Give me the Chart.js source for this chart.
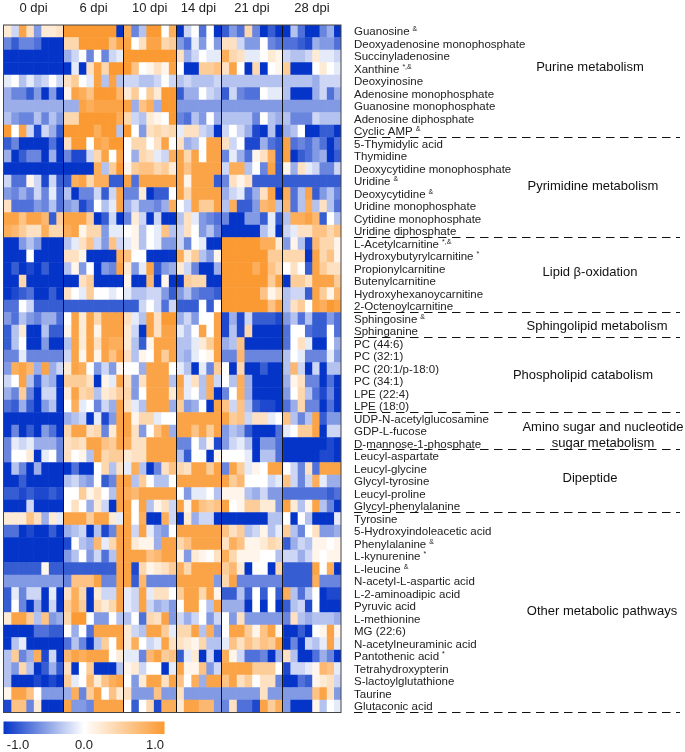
<!DOCTYPE html>
<html>
<head>
<meta charset="utf-8">
<title>Metabolite heatmap</title>
<script src="https://cdn.jsdelivr.net/npm/chart.js@4"></script>
<style>
  html, body { margin: 0; padding: 0; background: #fff; }
  #wrap { position: relative; width: 685px; height: 752px; }
  #wrap canvas { display: block; }
</style>
</head>
<body>
<div id="wrap"><canvas id="heat"></canvas></div>
<script>
const metabolites = [
  'Guanosine', 'Deoxyadenosine monophosphate', 'Succinyladenosine', 'Xanthine', 'Deoxyinosine',
  'Adenosine monophosphate', 'Guanosine monophosphate', 'Adenosine diphosphate', 'Cyclic AMP',
  '5-Thymidylic acid', 'Thymidine', 'Deoxycytidine monophosphate', 'Uridine', 'Deoxycytidine',
  'Uridine monophosphate', 'Cytidine monophosphate', 'Uridine diphosphate',
  'L-Acetylcarnitine', 'Hydroxybutyrylcarnitine', 'Propionylcarnitine', 'Butenylcarnitine',
  'Hydroxyhexanoycarnitine', '2-Octenoylcarnitine',
  'Sphingosine', 'Sphinganine',
  'PC (44:6)', 'PC (32:1)', 'PC (20:1/p-18:0)', 'PC (34:1)', 'LPE (22:4)', 'LPE (18:0)',
  'UDP-N-acetylglucosamine', 'GDP-L-fucose', 'D-mannose-1-phosphate',
  'Leucyl-aspartate', 'Leucyl-glycine', 'Glycyl-tyrosine', 'Leucyl-proline', 'Glycyl-phenylalanine',
  'Tyrosine', '5-Hydroxyindoleacetic acid', 'Phenylalanine', 'L-kynurenine', 'L-leucine',
  'N-acetyl-L-aspartic acid', 'L-2-aminoadipic acid', 'Pyruvic acid', 'L-methionine', 'MG (22:6)',
  'N-acetylneuraminic acid', 'Pantothenic acid', 'Tetrahydroxypterin', 'S-lactoylglutathione',
  'Taurine', 'Glutaconic acid'
];

// small superscript marks next to some names, by row
const markRows = [0, 3, 8, 12, 13, 17, 18, 23, 41, 42, 43, 50];
const markTexts = ['&', '*,&', '&', '&', '&', '*,&', '*', '&', '&', '*', '&', '*'];

const pathways = [
  ['Purine metabolism'], ['Pyrimidine metabolism'], ['Lipid β-oxidation'], ['Sphingolipid metabolism'],
  ['Phospholipid catabolism'], ['Amino sugar and nucleotide', 'sugar metabolism'], ['Dipeptide'],
  ['Other metabolic pathways']
];
// row count of each pathway block
const pathwaySizes = [9, 8, 6, 2, 6, 3, 5, 16];
// row the pathway name sits on
const pathwayRows = [2.9, 12.4, 19.3, 23.6, 27.5, 32.3, 35.8, 46.4];

const groupNames = ['0 dpi', '6 dpi', '10 dpi', '14 dpi', '21 dpi', '28 dpi'];
// width of each group in column units (21 dpi runs a little wider in the figure)
const groupUnits = [8, 8, 7, 6, 8.24, 7.76];

// z-scores in tenths (-10 = -1.0, 10 = 1.0), one row per metabolite
const dpi0 = [
  [2,-2,9,3,-5,2,2,3],[-6,-8,-6,-6,-7,-10,-10,-10],[-10,-10,-10,-10,-10,-10,-10,-10],[-10,-10,-10,-10,-10,-10,-10,-10],
  [-1,0,-3,-1,-3,-2,0,-2],[-4,-6,-6,-8,-5,-10,-5,-10],[-4,-4,-4,-4,-4,-4,-4,-4],[-3,-5,-6,-6,-3,-6,-3,-5],
  [10,0,9,-2,-9,-2,-4,-8],[-8,-6,-10,-10,-10,-10,-7,-10],[-4,-10,-8,-6,-6,-10,-4,-10],[-10,-10,-10,-10,-10,-10,-10,-10],
  [-2,-7,-7,1,-2,-9,-2,-8],[-5,-6,-4,-6,-2,-6,-1,-7],[3,-7,-7,-7,-5,-6,-3,-7],[9,9,6,9,9,7,-8,5],
  [8,7,5,3,3,8,4,4],[-10,-10,-5,-3,-5,-10,-10,-10],[-10,-10,-10,0,-10,-10,-10,-10],[-10,-8,-10,-9,-10,-8,-10,-10],
  [-10,-10,4,-10,-10,-10,-10,-10],[-10,-9,-8,-7,-10,-10,-8,-10],[-7,-7,0,-2,-8,-8,-8,-8],[-5,-7,-3,-5,-6,-4,-4,-7],
  [-8,-3,2,-10,-10,-3,-8,-8],[-8,-3,0,-10,-10,-5,-10,-10],[-6,-6,-1,-6,-6,-6,-6,-6],[-5,8,9,7,-4,9,-4,-2],
  [-2,0,9,-3,-8,-3,-4,-10],[-4,-6,5,-6,-10,-2,-2,-10],[-7,-8,-4,-8,-10,-5,-3,-10],[-10,-10,-10,-10,-10,-10,-10,-10],
  [-10,-6,-10,-8,-10,-5,-7,-10],[-6,-1,-2,-1,-4,-4,-4,-6],[-6,0,0,2,-10,-1,0,-6],[-10,-3,-6,-10,-4,-10,-10,-10],
  [-10,-10,-8,-10,-10,-10,-10,-10],[-8,-8,-9,-8,-9,-9,-8,-9],[-10,-10,-10,-2,-10,-10,-10,-10],[2,2,2,6,3,-4,2,-1],
  [-7,-7,-10,-9,-10,-10,-8,-10],[-10,-10,-10,-10,-10,-10,-10,-10],[-10,-10,-10,-10,-10,-10,-10,-10],[-8,-8,-8,-8,-8,1,-8,-8],
  [-5,-5,-5,-5,-5,-5,-5,-5],[-8,-1,-6,-2,-2,-10,-1,-10],[-8,0,-6,-10,-4,-10,-2,-10],[2,9,9,5,-3,6,-5,-4],
  [-10,-10,-10,-10,-7,-7,-8,-8],[-10,-3,-1,-10,-10,-10,-10,-10],[-3,5,-6,-4,8,-9,-2,-10],[-3,-5,4,-3,-10,-8,-4,-8],
  [-3,-10,-10,-10,-9,-10,-9,-10],[1,9,9,6,0,-5,-5,-5],[-9,6,6,-6,2,-10,-10,-10]
];
const dpi6 = [
  [10,10,10,10,10,10,10,-10],[4,4,10,10,10,10,6,9],[-4,-2,0,-6,0,-6,-2,-1],[-10,-1,-10,3,9,4,10,10],
  [3,5,0,-1,9,-3,9,-3],[1,9,8,6,10,10,10,7],[-4,-4,9,8,9,9,9,9],[4,4,10,10,10,10,10,8],
  [10,10,10,10,8,10,10,-3],[3,10,10,0,9,8,10,10],[-6,-9,-9,-2,4,9,0,9],[-10,-10,-10,-10,8,-3,5,10],
  [-8,8,9,4,8,8,-8,-8],[-3,-10,-6,-6,-2,-8,-2,9],[-5,-4,-9,-7,0,-3,-1,9],[9,9,9,5,-10,-8,-2,-10],
  [8,9,1,4,4,-5,-1,-1],[-3,-1,3,6,-2,-5,6,-2],[3,3,1,-10,-10,-10,-10,8],[-3,1,-5,0,-10,-5,-6,9],
  [-10,-10,3,5,-10,-10,-10,-10],[3,0,-1,5,0,0,-1,0],[-8,-8,-8,-8,-8,-8,-8,-8],[0,9,2,9,4,9,9,9],
  [1,9,2,9,1,9,9,9],[-3,9,2,9,3,9,8,8],[-2,9,1,9,1,9,6,9],[2,9,8,0,-5,-2,-5,1],
  [5,5,5,3,-10,1,-1,9],[2,9,4,5,-3,2,3,5],[0,8,-1,0,-6,-2,-4,9],[-4,-3,-2,-10,-1,-9,-5,9],
  [4,9,9,3,4,-6,2,9],[3,4,3,9,9,6,5,9],[3,0,1,-3,9,4,5,5],[-10,-7,-10,-10,0,4,-3,3],
  [-3,-2,-4,-5,0,-8,-6,9],[0,0,5,1,3,0,-3,9],[0,3,0,-4,2,-2,-10,9],[9,9,9,5,9,9,2,-1],
  [-4,-3,-2,-10,-3,-9,-6,9],[-9,0,-3,-4,7,-1,4,9],[-5,-3,0,-5,-2,-7,-3,9],[-8,-8,-8,-8,-8,-8,-8,9],
  [-6,6,6,6,9,-6,-6,9],[3,8,4,-10,2,-2,-2,9],[5,8,5,-10,4,2,4,9],[4,10,10,0,-5,-5,0,-3],
  [0,-4,0,-7,9,9,9,9],[-7,-3,-6,-10,-3,5,0,9],[7,9,8,9,9,9,0,2],[3,-10,0,5,-10,-10,-10,-3],
  [5,-1,0,7,2,6,8,9],[-4,8,-6,5,9,0,6,2],[9,-5,-5,-6,9,9,9,9]
];
const dpi10 = [
  [8,-6,-3,10,10,0,8],[9,0,3,9,9,4,5],[10,10,10,10,10,10,10],[10,6,0,1,3,1,9],
  [-2,-2,-3,-3,-2,0,-2],[2,5,0,5,2,10,10],[9,-4,6,8,-4,10,10],[4,-2,-3,2,1,0,10],
  [10,0,-5,3,4,3,4],[0,4,4,0,3,9,0],[0,-4,4,3,-1,-2,8],[1,5,6,6,4,5,2],
  [9,-7,9,9,9,9,9],[-6,-6,2,-10,-8,-8,0],[-4,-2,-5,-5,-6,-4,8],[-6,2,-2,-10,-2,-10,-10],
  [0,1,-3,0,-1,6,-3],[-1,1,-3,0,-1,-5,-5],[6,0,0,-10,-10,-10,-10],[2,-5,-1,9,-8,-5,-4],
  [1,-10,-10,7,-10,1,-10],[-1,-3,-3,-2,-2,-5,-8],[-8,-8,-2,0,-2,-7,-2],[3,-1,-3,9,3,10,10],
  [2,-2,-10,9,3,9,9],[2,-3,-8,1,9,9,9],[3,-3,1,0,9,5,9],[0,0,-4,9,9,9,0],
  [3,-5,3,9,9,9,-3],[4,-5,0,9,9,9,2],[3,-1,-3,9,9,9,-4],[9,1,4,4,-1,0,0],
  [9,3,-5,0,6,9,-4],[8,3,3,9,9,9,9],[2,3,3,9,9,9,9],[-1,8,-3,-10,-6,3,6],
  [9,-3,5,0,-3,-3,0],[8,7,9,9,9,9,9],[9,0,9,-3,1,3,-2],[9,0,8,-10,-10,8,-2],
  [9,-2,9,-1,-4,-5,0],[9,2,1,1,-4,9,9],[9,9,9,6,7,9,9],[9,-9,4,1,2,3,5],
  [9,-8,7,-6,-6,-6,-6],[-1,-2,9,-1,3,3,0],[-1,-2,9,-2,-4,-3,-5],[-3,0,-7,4,3,9,-5],
  [2,-2,-3,9,9,5,-1],[2,8,0,-2,-1,9,3],[-1,-1,-6,7,9,5,6],[1,2,-2,0,0,-10,-1],
  [0,-5,2,9,9,3,9],[3,-5,-5,-5,6,-5,-5],[0,-8,0,4,-9,8,8]
];
const dpi14 = [
  [-10,-2,0,-7,0,-10],[-5,-7,-1,-5,0,-5],[3,-4,-2,0,-1,-1],[0,-10,-10,5,5,6],
  [-3,-2,-3,-3,-3,-2],[-8,-4,-4,0,-2,-3],[-5,-5,-5,-5,-5,-5],[-6,-7,-3,-5,0,-4],
  [-1,3,3,-2,-3,-10],[3,-4,-3,0,9,9],[9,4,9,0,9,9],[9,6,9,9,9,9],
  [9,1,9,9,9,-8],[9,4,9,9,9,9],[0,-2,9,5,5,9],[-3,3,-1,-5,-6,-7],
  [-2,3,0,-5,-3,-6],[-2,-6,0,-1,-10,-10],[8,2,5,-3,-5,1],[2,-2,-6,-10,-10,-4],
  [-10,5,4,4,-10,-10],[-5,-3,-6,-7,-7,-8],[-8,-8,-8,0,-8,0],[-4,-2,-5,0,0,9],
  [-1,-3,0,9,0,9],[-3,-3,-1,2,5,9],[-3,-4,-1,0,1,9],[-1,-3,-10,-1,-6,5],
  [9,-1,3,-3,8,-2],[8,-1,0,-3,8,-10],[5,-5,-4,0,-10,9],[9,9,9,9,9,9],
  [9,9,6,9,5,9],[-6,-6,0,-3,1,-9],[-3,-8,0,0,-10,1],[4,3,9,9,5,9],
  [9,9,9,9,9,9],[0,-5,-1,-1,0,-3],[9,1,9,6,5,6],[-10,2,-4,-2,-2,-10],
  [9,9,9,9,9,9],[4,6,9,9,9,9],[1,-5,2,1,0,3],[8,4,9,9,9,9],
  [9,9,9,9,9,-5],[5,9,9,4,9,1],[0,9,9,0,-3,9],[-2,-4,-2,0,-5,-2],
  [4,4,9,-3,8,-5],[3,2,1,4,-3,-3],[-8,-1,2,-10,-2,-10],[9,1,1,6,-5,-2],
  [6,0,8,-4,9,9],[3,-5,-5,-5,-5,-5],[2,9,9,7,7,-5]
];
const dpi21 = [
  [-8,-5,-7,4,-6,-10,-8,-10],[3,3,-2,-5,-5,0,-6,-7],[8,4,3,-1,-1,0,2,1],[3,9,0,-10,4,-10,0,1],
  [-3,-3,-3,-3,-3,-3,-3,-3],[-8,-2,-6,-7,-7,0,-1,-1],[-5,-5,-5,-5,-5,-5,-5,-5],[-3,-3,-3,-3,-6,0,-3,-4],
  [-2,0,-2,-4,-9,-10,-3,-10],[3,-2,0,-9,-9,-4,-7,-8],[-6,-1,-4,-7,1,3,8,-8],[-2,8,8,-3,0,-6,9,-8],
  [-6,3,1,3,-8,-8,-8,-8],[-4,-2,-1,-7,-4,3,9,-10],[-3,8,-8,-8,-5,7,8,-3],[-6,-10,-10,-5,-5,-8,-1,-8],
  [-10,-10,-10,-10,-10,-3,-1,-10],[10,10,10,10,10,8,8,2],[10,10,10,10,10,10,5,5],[10,10,10,10,8,10,6,4],
  [10,10,10,10,10,10,5,9],[10,10,10,10,10,6,1,3],[10,10,10,10,10,10,6,9],[-9,-4,-9,-2,-8,-8,-8,-9],
  [-9,-3,-9,4,-10,-10,-10,-10],[-4,-3,6,-10,-10,-10,-10,-10],[-6,-6,7,-6,-6,-6,-6,-6],[0,-10,4,-10,-10,-8,-10,-10],
  [0,-3,8,-4,-10,-10,-10,-10],[-6,0,8,-4,-10,-10,-10,-10],[6,-2,6,-3,-8,-9,-9,-10],[9,5,6,-2,3,3,-1,0],
  [-5,-3,-4,-8,-10,-10,-10,-7],[-5,-2,-1,-3,-10,-5,-5,-7],[0,0,0,-1,-10,-3,-3,-7],[-6,9,5,-1,1,0,9,9],
  [9,5,7,0,0,0,-2,-1],[1,1,1,-3,-4,-2,-5,-5],[9,0,1,5,5,2,2,-5],[-10,-10,-10,-10,-10,-10,-3,-3],
  [6,3,5,-3,-2,1,-3,-1],[3,8,6,1,1,2,4,3],[8,4,1,1,1,0,0,-3],[5,7,2,-10,0,0,-10,4],
  [4,9,-6,-6,-6,-6,-6,-6],[-8,-8,-3,-8,0,-8,0,-8],[-4,-4,-4,-10,0,-10,0,-10],[0,-5,3,-5,-5,-5,-5,-5],
  [0,9,9,5,1,6,9,1],[-1,6,3,6,4,6,5,9],[8,1,-2,-7,-7,-6,-10,-4],[9,9,9,9,5,5,5,0],
  [6,9,3,5,0,3,3,-6],[-5,-5,-5,-5,-5,3,-5,-5],[-6,3,-7,-7,-9,9,5,8]
];
const dpi28 = [
  [-10,-3,-7,-10,-10,-6,-4,-10],[-7,-7,-8,-9,-4,-5,-5,-7],[-2,-3,-3,-2,2,-1,-1,-2],[5,-10,-10,-10,0,2,0,-1],
  [-3,-3,-3,-3,-4,-2,-2,-2],[-3,-10,-10,-10,-4,-2,-7,-4],[-5,-5,-5,-5,-5,-5,-5,-5],[-3,-6,-6,-6,-2,-3,-3,-3],
  [-4,-3,0,-10,-10,-8,-8,-10],[9,-7,-6,-7,-5,-7,-10,-7],[9,-10,-8,-7,-5,-4,-10,-8],[1,-4,3,-1,-2,-6,-6,-2],
  [-8,-8,-8,-8,-8,-8,-8,-8],[8,-7,-3,9,-8,-5,-3,-6],[7,-7,-3,8,-3,3,-3,-7],[-3,8,8,9,7,-8,0,-3],
  [-2,-1,3,3,6,6,4,6],[-5,1,-3,-9,7,4,4,1],[4,4,4,-10,9,4,6,1],[0,3,0,-8,9,5,3,3],
  [-10,5,5,3,9,9,9,5],[-3,-2,-2,-8,9,5,1,7],[-3,3,5,0,9,8,10,9],[-5,-3,-7,-3,-8,-8,-5,-7],
  [-7,0,0,-7,-8,-8,0,-7],[-7,0,3,-1,-10,-10,0,-4],[-3,0,-1,-6,-6,-6,-1,-5],[-3,7,-2,-10,-2,-10,-3,-3],
  [-4,1,3,-6,-6,-10,-7,-10],[-5,0,4,-3,-7,-9,-6,-10],[-7,-4,4,-6,-6,-10,-7,-10],[6,-3,-6,-3,9,-8,-5,-5],
  [-1,0,5,5,9,-10,-2,-2],[-10,-10,-10,-10,-10,-10,-9,-10],[-10,-10,-10,-10,-10,-9,-9,-10],[0,-2,-6,3,-7,9,9,9],
  [6,-2,-6,-2,8,-1,-4,-4],[-7,-7,-7,-7,-7,-7,-8,-7],[9,2,-3,1,9,-3,-6,-10],[0,-10,0,-3,-10,-10,-10,-1],
  [5,-3,-6,0,3,-5,-5,-4],[-8,-4,-2,-3,1,1,0,1],[-2,-2,-4,-2,1,0,1,1],[-8,-8,-8,-8,9,0,8,-10],
  [-8,-8,-8,-8,8,-6,-6,-6],[8,-3,-7,-3,0,-10,-9,-9],[-8,-3,-2,-9,0,-10,-10,-10],[-6,3,-3,-4,-3,-3,-3,-4],
  [-10,-10,-8,-10,0,1,9,1],[-10,-6,-10,-2,-3,-1,9,-1],[3,-3,-10,-10,-7,-4,-6,-10],[-9,-2,-2,-1,1,7,6,-1],
  [-10,-10,-7,-8,1,2,3,-2],[-5,-5,-5,-5,6,9,3,-5],[-5,-10,-10,-10,1,-3,0,-1]
];
const groups = [dpi0, dpi6, dpi10, dpi14, dpi21, dpi28];

const keyLabels = ['-1.0', '0.0', '1.0'];

const BLUE = [5, 52, 200];
const ORANGE = [251, 154, 50];
const FONT = '"Liberation Sans", Arial, sans-serif';
const LABEL_SIZE = 11.5;
const pathwayX = [590, 593, 590, 597, 583, 603, 590, 602];
const keyLabelX = [18, 84, 155];

function heatColor(v) {
  const end = v < 0 ? BLUE : ORANGE;
  const t = Math.min(Math.abs(v), 1);
  const c = end.map(e => Math.round(255 + (e - 255) * t));
  return `rgb(${c[0]},${c[1]},${c[2]})`;
}

// one stacked dataset per sample column
const datasets = [];
const groupEdges = [];
const groupCentres = [];
let col = 0;
groups.forEach((rows, g) => {
  const size = rows[0].length;
  const width = groupUnits[g] / size;
  groupCentres.push(col + groupUnits[g] / 2);
  for (let c = 0; c < size; c++) {
    datasets.push({
      data: metabolites.map(() => width),
      backgroundColor: metabolites.map((_, r) => heatColor(rows[r][c] / 10)),
      barPercentage: 1,
      categoryPercentage: 1,
      borderWidth: 0
    });
  }
  col += groupUnits[g];
  groupEdges.push(col);
});
const totalCols = col;

const overlay = {
  id: 'overlay',
  afterDraw(chart) {
    const { ctx, chartArea: a, scales: { x, y } } = chart;

    ctx.save();
    // group separators and frame
    ctx.strokeStyle = '#111';
    ctx.lineWidth = 1;
    groupEdges.slice(0, -1).forEach(e => {
      const px = Math.floor(x.getPixelForValue(e)) + 0.5;
      ctx.beginPath();
      ctx.moveTo(px, a.top);
      ctx.lineTo(px, a.bottom);
      ctx.stroke();
    });
    ctx.strokeStyle = '#444';
    ctx.strokeRect(a.left, a.top, a.right - a.left, a.bottom - a.top);

    // dashed block lines and pathway names
    let start = 0;
    pathwaySizes.forEach((n, i) => {
      const end = start + n;
      const ly = Math.round(y.getPixelForValue(end - 0.5)) - 0.5;
      ctx.strokeStyle = '#111';
      ctx.setLineDash([8.5, 5.5]);
      ctx.beginPath();
      ctx.moveTo(a.right + 13, ly);
      ctx.lineTo(680, ly);
      ctx.stroke();
      ctx.setLineDash([]);

      const lines = pathways[i];
      const cy = y.getPixelForValue(pathwayRows[i]);
      ctx.fillStyle = '#111';
      ctx.font = `13px ${FONT}`;
      ctx.textAlign = 'center';
      ctx.textBaseline = 'middle';
      lines.forEach((t, k) => {
        ctx.fillText(t, pathwayX[i], cy + (k - (lines.length - 1) / 2) * 16);
      });
      start = end;
    });

    // superscript marks
    ctx.textAlign = 'left';
    ctx.textBaseline = 'middle';
    markRows.forEach((r, i) => {
      ctx.font = `${LABEL_SIZE}px ${FONT}`;
      const w = ctx.measureText(metabolites[r]).width;
      ctx.font = `7px ${FONT}`;
      ctx.fillStyle = '#222';
      ctx.fillText(markTexts[i], a.right + 13 + w + 3, y.getPixelForValue(r) - 2);
    });

    // colour key
    const kx = a.left, kw = 161, ky = 721.5, kh = 12.5;
    const grad = ctx.createLinearGradient(kx, 0, kx + kw, 0);
    [-1, -0.5, 0, 0.5, 1].forEach(v => grad.addColorStop((v + 1) / 2, heatColor(v)));
    ctx.fillStyle = grad;
    ctx.fillRect(kx, ky, kw, kh);
    ctx.fillStyle = '#222';
    ctx.font = `13px ${FONT}`;
    ctx.textAlign = 'center';
    keyLabels.forEach((t, i) => ctx.fillText(t, keyLabelX[i], 745.5));
    ctx.restore();
  }
};

new Chart(document.getElementById('heat'), {
  type: 'bar',
  data: { labels: metabolites, datasets },
  plugins: [overlay],
  options: {
    indexAxis: 'y',
    responsive: true,
    maintainAspectRatio: false,
    animation: false,
    events: [],
    layout: { padding: { left: 3.5, right: 0, top: 0, bottom: 39.5 } },
    plugins: { legend: { display: false }, tooltip: { enabled: false } },
    scales: {
      x: {
        type: 'linear',
        position: 'top',
        stacked: true,
        min: 0,
        max: totalCols,
        grid: { display: false },
        border: { display: false },
        afterFit: s => { s.height = 25; },
        afterBuildTicks: s => { s.ticks = groupCentres.map(v => ({ value: v })); },
        ticks: {
          autoSkip: false,
          maxRotation: 0,
          padding: 1,
          color: '#222',
          font: { family: FONT, size: 13 },
          callback: v => groupNames[groupCentres.indexOf(v)]
        }
      },
      y: {
        type: 'category',
        position: 'right',
        stacked: true,
        grid: { display: false, drawTicks: false },
        border: { display: false },
        afterFit: s => { s.width = 344; },
        ticks: {
          autoSkip: false,
          padding: 13,
          labelOffset: 0.7,
          color: '#222',
          font: { family: FONT, size: LABEL_SIZE }
        }
      }
    }
  }
});
</script>
</body>
</html>
